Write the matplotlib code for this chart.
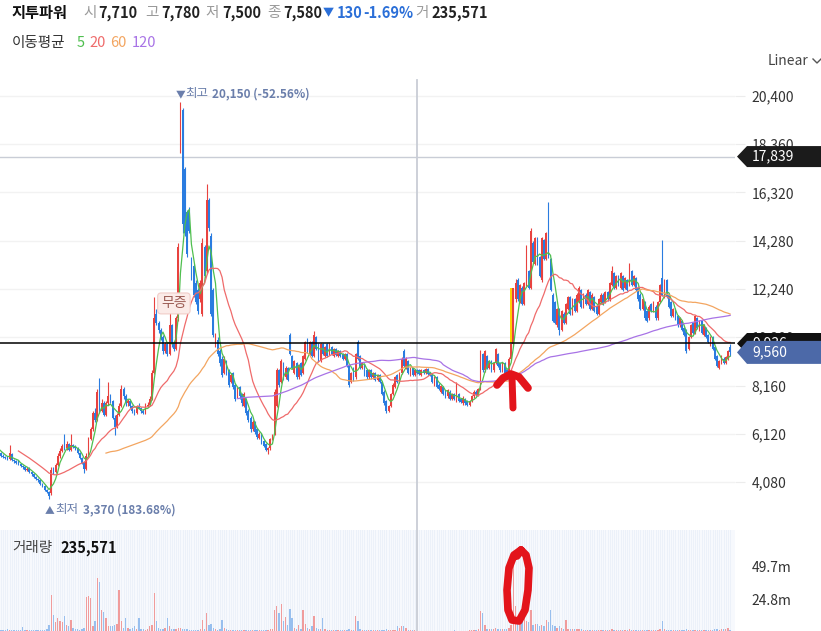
import numpy as np
import pandas as pd
import matplotlib
matplotlib.use("Agg")
import matplotlib.pyplot as plt
import matplotlib.transforms as mtransforms
from matplotlib.lines import Line2D
from matplotlib.patches import Polygon, Rectangle

plt.rcParams['font.family'] = ['Noto Sans CJK KR', 'DejaVu Sans']

W, H = 821, 631

# daily candles (first 11 are before the visible window, used for the moving averages)
opens = [6000, 5950, 5900, 5850, 5800, 5750, 5700, 5650, 5550, 5500, 5400,
         5300, 5200, 5150, 5100, 5050, 5250, 5000, 4950, 4950, 4850,
         4750, 4700, 4600, 4650, 4500, 4400, 4300, 4200, 4150, 4000,
         3900, 3750, 3650, 3600, 4600, 4500, 4800, 5200, 5400, 5600,
         5500, 5700, 5450, 5650, 5600, 5500, 5300, 5100, 4900, 4650,
         5200, 5900, 6300, 7000, 6700, 8400, 7100, 7400, 6900, 7400,
         7700, 7500, 6800, 6400, 6900, 7300, 8000, 7700, 7400, 7500,
         7300, 7100, 7000, 7300, 7200, 7100, 7000, 7300, 7350, 7600,
         8700, 11200, 10800, 10500, 10200, 9600, 9900, 9500, 10700, 9900,
         9700, 11000, 18500, 19800, 17300, 15500, 15600, 13500, 13200, 12500,
         12200, 11800, 11200, 14000, 13000, 16000, 14500, 12200, 9900, 10100,
         9600, 9300, 8700, 9200, 8800, 8300, 8700, 8200, 7700, 8100,
         7800, 7300, 7600, 7100, 6800, 6300, 6600, 6300, 5950, 6100,
         5800, 5700, 5450, 5500, 5900, 6100, 7300, 8800, 8300, 9100,
         8500, 8900, 10300, 9400, 8700, 9100, 8500, 9100, 8700, 9300,
         10100, 9500, 10000, 9400, 10200, 9900, 9200, 9900, 9400, 9900,
         9500, 9800, 9400, 9700, 9400, 9600, 9500, 9300, 9500, 9000,
         8300, 8900, 8500, 10000, 9400, 8900, 9000, 8800, 8500, 8800,
         8500, 8700, 8400, 8600, 8300, 7900, 7500, 7100, 7300, 7800,
         8100, 8600, 8300, 8700, 9600, 8900, 9200, 8600, 8900, 8600,
         8800, 8800, 8600, 8800, 8700, 8850, 8700, 8600, 8200, 8500,
         8200, 7900, 8100, 7900, 7700, 7900, 7600, 7800, 7500, 7800,
         7600, 7400, 7600, 7500, 7350, 7500, 7700, 7900, 7750, 8000,
         9500, 8800, 9400, 8900, 9200, 8800, 9100, 9500, 9100, 8800,
         9100, 8800, 8600, 9300, 9900, 11800, 12600, 11700, 12300, 11600,
         12400, 13000, 12300, 14200, 13300, 14400, 13600, 12600, 14300, 13500,
         14600, 13500, 12000, 11700, 10700, 11400, 10500, 11200, 10800, 11400,
         11900, 11200, 11800, 11300, 11700, 12200, 11500, 12000, 11600, 12100,
         11400, 11900, 11500, 11200, 11700, 12000, 11700, 12100, 11800, 12400,
         12900, 12300, 12800, 12300, 12800, 12300, 12600, 12400, 13000, 12400,
         12700, 12300, 12000, 11400, 11700, 11300, 11000, 11600, 11300, 11500,
         11000, 11700, 12700, 11900, 12600, 12000, 11700, 11100, 11400, 11100,
         10700, 10900, 10600, 10500, 9700, 10200, 10800, 10400, 11000, 10500,
         10900, 10300, 10600, 10300, 9900, 10200, 9800, 9400, 8900, 9100,
         9300, 9100, 9300, 9800]
highs = [6100, 6050, 6000, 5950, 5900, 5850, 5800, 5750, 5650, 5600, 5500,
         5350, 5250, 5200, 5200, 5650, 5300, 5050, 5000, 5000, 4900,
         4800, 4750, 4700, 4700, 4550, 4450, 4350, 4250, 4200, 4050,
         3950, 3800, 3700, 4700, 4700, 4900, 5300, 5500, 5700, 6100,
         5800, 5750, 6100, 5700, 5650, 5550, 5350, 5150, 4950, 5300,
         6000, 6400, 7100, 7200, 8000, 8470, 7600, 7500, 7500, 8300,
         7800, 7550, 6900, 7000, 7400, 8200, 8100, 7800, 7600, 7550,
         7350, 7150, 7350, 7400, 7250, 7150, 7400, 7450, 7700, 8800,
         11900, 11400, 10900, 10600, 10300, 10000, 9950, 11400, 10750, 10000,
         11100, 14200, 20150, 19900, 17400, 15600, 15700, 13600, 13300, 12600,
         12300, 12600, 14400, 14100, 16700, 16100, 14600, 12300, 10400, 10200,
         9700, 9400, 9400, 9250, 8850, 8700, 8750, 8250, 8100, 8150,
         7850, 7900, 7650, 7150, 6850, 6700, 6650, 6350, 6200, 6150,
         5850, 5750, 5550, 5950, 6100, 8000, 8900, 8850, 9300, 9150,
         9000, 8950, 10400, 9450, 9250, 9150, 9050, 9150, 9450, 10050,
         10150, 10050, 10050, 10450, 10250, 9950, 9950, 9950, 9850, 9950,
         9950, 9850, 9750, 9750, 9650, 9650, 9550, 9550, 9550, 9050,
         8750, 8950, 9550, 10100, 9450, 9150, 9050, 8850, 8850, 8850,
         8750, 8750, 8650, 8650, 8350, 7950, 7550, 7350, 7850, 8250,
         8550, 8650, 8750, 9350, 9700, 9350, 9250, 8950, 8950, 8850,
         8850, 8850, 8850, 8850, 8900, 8900, 8750, 8650, 8550, 8550,
         8250, 8200, 8150, 7950, 8000, 7950, 7850, 7850, 8300, 7850,
         7650, 7700, 7650, 7550, 7550, 7750, 7950, 7950, 8050, 9650,
         9550, 9650, 9450, 9250, 9250, 9150, 9750, 9550, 9150, 9150,
         9150, 8850, 9350, 9950, 12300, 12650, 12700, 12450, 12350, 12550,
         14100, 13050, 14800, 14250, 14450, 14450, 13650, 14450, 14350, 14650,
         15900, 13550, 12050, 11750, 11450, 11450, 11350, 11250, 11650, 11950,
         11950, 11850, 11850, 12050, 12350, 12250, 12050, 12050, 12250, 12150,
         12050, 11950, 11550, 11850, 12050, 12050, 12150, 12150, 12550, 13200,
         12950, 12850, 12850, 12950, 12850, 12750, 12650, 13330, 13050, 12850,
         12750, 12350, 12050, 11850, 11750, 11350, 11550, 11650, 11750, 11550,
         11750, 12450, 14300, 12650, 12650, 12050, 11750, 11450, 11450, 11150,
         11050, 10950, 10650, 10550, 10250, 10750, 10850, 11150, 11050, 10950,
         10950, 10750, 10650, 10350, 10250, 10250, 9850, 9450, 9250, 9450,
         9350, 9400, 9650, 9900]
lows = [5900, 5850, 5800, 5750, 5700, 5650, 5600, 5500, 5450, 5350, 5250,
        5150, 5100, 5050, 5000, 5000, 4950, 4900, 4850, 4800, 4700,
        4650, 4550, 4550, 4450, 4350, 4250, 4150, 4100, 3950, 3850,
        3700, 3600, 3370, 3550, 4400, 4450, 4750, 5100, 5350, 5450,
        5450, 5400, 5400, 5500, 5450, 5250, 5050, 4850, 4460, 4600,
        5150, 5850, 6250, 6600, 6650, 7000, 7050, 6850, 6850, 7350,
        7400, 6750, 6070, 6350, 6850, 7250, 7600, 7300, 7300, 7200,
        7000, 6900, 6950, 7150, 7000, 6950, 6950, 7250, 7300, 7550,
        8650, 10700, 10400, 10100, 9500, 9550, 9400, 9450, 9800, 9600,
        9650, 10900, 18000, 14600, 14500, 13600, 14600, 12600, 11900, 11600,
        11200, 11700, 11100, 12700, 12900, 14700, 11100, 10200, 9800, 9400,
        9000, 8500, 8650, 8600, 8100, 8250, 8000, 7500, 7650, 7600,
        7300, 7250, 6900, 6600, 6200, 6250, 6100, 5900, 5900, 5700,
        5550, 5400, 5250, 5450, 5850, 6050, 7250, 8100, 8250, 8400,
        8450, 8350, 9450, 8850, 8650, 8450, 8450, 8550, 8650, 9250,
        9550, 9450, 9350, 9350, 9650, 9150, 9150, 9450, 9350, 9350,
        9450, 9450, 9350, 9400, 9350, 9350, 9250, 9250, 8950, 8100,
        8250, 8350, 8450, 9250, 8850, 8850, 8550, 8450, 8450, 8450,
        8450, 8350, 8350, 8250, 7750, 7350, 7000, 7050, 7250, 7750,
        8050, 8250, 8250, 8650, 8950, 8850, 8650, 8550, 8550, 8550,
        8650, 8600, 8550, 8650, 8650, 8600, 8550, 8250, 8150, 8050,
        7950, 7850, 7750, 7650, 7650, 7550, 7550, 7550, 7450, 7450,
        7400, 7350, 7350, 7300, 7300, 7450, 7650, 7700, 7700, 7950,
        8750, 8750, 8850, 8850, 8750, 8750, 9050, 8950, 8750, 8750,
        8650, 8550, 8550, 9250, 9850, 11700, 11750, 11650, 11550, 11550,
        12350, 12250, 12250, 13350, 13250, 13250, 12750, 12550, 13450, 13450,
        13550, 12150, 10850, 10750, 10650, 10300, 10450, 10750, 10750, 11350,
        11150, 11150, 11250, 11250, 11650, 11450, 11450, 11550, 11550, 11350,
        11350, 11250, 11150, 11150, 11650, 11550, 11650, 11750, 11750, 12350,
        12250, 12250, 12350, 12250, 12150, 12250, 12150, 12350, 12350, 12350,
        12150, 11750, 11350, 11350, 10950, 10850, 10950, 11250, 11250, 10950,
        10950, 11650, 11950, 11850, 11850, 11450, 11050, 11050, 10950, 10650,
        10650, 10450, 10250, 9550, 9650, 10150, 10350, 10350, 10550, 10450,
        10350, 10250, 10150, 9950, 9850, 9650, 9250, 8950, 8850, 9050,
        9050, 9050, 9250, 9400]
closes = [5950, 5900, 5850, 5800, 5750, 5700, 5650, 5550, 5500, 5400, 5300,
          5200, 5150, 5100, 5050, 5300, 5000, 4950, 4900, 4850, 4750,
          4700, 4600, 4650, 4500, 4400, 4300, 4200, 4150, 4000, 3900,
          3750, 3650, 3500, 4600, 4500, 4800, 5200, 5400, 5600, 5500,
          5700, 5450, 5650, 5600, 5500, 5300, 5100, 4900, 4650, 5200,
          5900, 6300, 7000, 6700, 7900, 7100, 7400, 6900, 7400, 7700,
          7500, 6800, 6400, 6900, 7300, 8000, 7700, 7400, 7500, 7300,
          7100, 7000, 7300, 7200, 7100, 7000, 7300, 7350, 7600, 8700,
          11000, 10800, 10500, 10200, 9600, 9900, 9500, 10700, 9900, 9700,
          11000, 14000, 20000, 15000, 14600, 13700, 14700, 12700, 12000, 11700,
          11300, 12500, 14200, 12800, 16000, 14800, 11200, 10300, 10100, 9500,
          9100, 8600, 9300, 8700, 8200, 8600, 8100, 7600, 8000, 7700,
          7400, 7800, 7000, 6700, 6300, 6600, 6200, 6000, 6100, 5750,
          5600, 5450, 5500, 5900, 6000, 7900, 8800, 8200, 9200, 8500,
          8900, 8400, 9500, 8900, 9200, 8500, 9000, 8600, 9400, 10000,
          9600, 10000, 9400, 10300, 9700, 9200, 9900, 9500, 9800, 9400,
          9900, 9500, 9700, 9450, 9600, 9400, 9300, 9500, 9000, 8200,
          8700, 8400, 9500, 9300, 8900, 9100, 8600, 8500, 8800, 8500,
          8700, 8400, 8600, 8300, 7800, 7400, 7100, 7300, 7800, 8200,
          8500, 8300, 8700, 9300, 9000, 9300, 8700, 8900, 8600, 8800,
          8700, 8650, 8800, 8700, 8850, 8650, 8600, 8300, 8500, 8100,
          8000, 8150, 7800, 7700, 7950, 7600, 7800, 7600, 7750, 7500,
          7450, 7650, 7400, 7350, 7500, 7700, 7900, 7750, 8000, 9500,
          8800, 9600, 8900, 9200, 8800, 9100, 9700, 9000, 8800, 9100,
          8700, 8600, 9300, 9900, 12300, 12500, 11800, 12400, 11600, 12500,
          13300, 12300, 14700, 13400, 14400, 13300, 12800, 14400, 13500, 14600,
          13600, 12200, 10900, 10800, 11400, 10500, 11300, 10800, 11600, 11900,
          11200, 11800, 11300, 12000, 12300, 11500, 12000, 11600, 12200, 11400,
          12000, 11300, 11200, 11800, 12000, 11600, 12100, 11800, 12500, 13000,
          12300, 12800, 12400, 12900, 12200, 12700, 12200, 13200, 12400, 12800,
          12200, 11800, 11400, 11800, 11000, 10900, 11500, 11300, 11700, 11000,
          11700, 12400, 12000, 12600, 11900, 11500, 11100, 11400, 11000, 10700,
          11000, 10500, 10300, 9600, 10200, 10700, 10400, 11100, 10600, 10900,
          10400, 10700, 10200, 10000, 10200, 9700, 9300, 9000, 9200, 9400,
          9100, 9350, 9600, 9560]
# volume in millions of shares
volumes = [3, 3, 3, 3, 3, 3, 3, 3, 3, 3, 3,
           2, 2, 2, 3, 2, 2, 2, 2, 2, 2,
           4.5, 2, 2, 2, 2, 2, 2, 2, 2, 2,
           2, 3, 6, 28.5, 13.5, 8, 11, 9, 8, 13,
           6, 5, 10, 4, 3, 3, 2, 3, 4, 27,
           28, 26, 5, 9, 41, 38, 17, 16, 11, 5,
           5, 5, 6, 7, 32, 9, 4, 11, 4, 3,
           4, 5, 3, 11, 3, 3, 2, 3, 5, 6,
           30, 9, 4, 3, 3, 4, 11, 5, 3, 3,
           3, 4, 4, 3, 3, 3, 2, 2, 2, 2,
           2, 3, 10, 3, 15, 6, 7, 4, 3, 2,
           3, 10, 4, 3, 2, 2, 2, 2, 2, 2,
           2, 2, 2, 2, 2, 2, 2, 2, 2, 2,
           2, 2, 2, 3, 3, 17, 20, 15, 22, 9,
           12, 6, 18, 11, 4, 3, 6, 3, 17, 7,
           4, 3, 5, 13, 4, 3, 3, 11, 3, 2,
           2, 2, 2, 2, 2, 2, 2, 2, 2, 3,
           2, 2, 13, 9, 3, 2, 2, 2, 2, 2,
           2, 2, 2, 2, 2, 2, 3, 2, 2, 2,
           2, 5, 4, 5, 5, 4, 2, 2, 2, 2,
           1.5, 1.5, 1.5, 1.5, 1.5, 1.5, 1.5, 1.5, 1.5, 1.5,
           1.5, 1.5, 1.5, 1.5, 1.5, 1.5, 1.5, 2, 1.5, 1.5,
           1.5, 1.5, 1.5, 1.5, 2, 2, 2, 2, 3, 16.5,
           15, 6, 3, 3, 3, 3, 4, 3, 3, 3,
           3, 3, 4, 6, 52, 20, 9, 10, 8, 11,
           9, 8, 17, 6, 7, 7, 5, 6, 5, 10,
           8, 17, 6, 5, 4, 5, 4, 3, 10, 3,
           3, 3, 3, 3, 3, 3, 2, 2, 2, 2,
           2, 2, 2, 2, 2, 2, 2, 2, 2, 3,
           2, 2, 2, 2, 2, 2, 2, 3, 2, 2,
           2, 2, 2, 2, 2, 2, 2, 2, 2, 2,
           2, 3, 9, 3, 2, 2, 2, 2, 2, 2,
           2, 2, 2, 3, 2, 2, 2, 2, 2, 2,
           2, 2, 2, 2, 2, 2, 3, 3, 2, 3,
           3, 3, 4, 2]

ma_periods = [5, 20, 60, 120]
ma_colors = ['#4fbf4f', '#ef6b6b', '#f3a560', '#a873e6']
price_ticks = [4080, 6120, 8160, 10200, 12240, 14280, 16320, 18360, 20400]
vol_ticks = [24.8, 49.7]

stock_name = '지투파워'
header_labels = ['시', '고', '저', '종']
header_values = ['7,710', '7,780', '7,500', '7,580']
change_abs = '130'
change_pct = '-1.69%'
day_volume = '235,571'
high_text = '20,150 (-52.56%)'
low_text = '3,370 (183.68%)'

cross_idx = 201
cross_price = 17839
line_price = 9936
last_price = 9560
event_idx, event_price = 90, 11630
marker_idx = (243.5, 244.95)
marker_range = (9936, 12280)

RED = '#e8423f'
BLUE = '#2a7ce0'

o = np.array(opens, float)
h = np.array(highs, float)
l = np.array(lows, float)
c = np.array(closes, float)
v = np.array(volumes, float) * 1e6
idx = np.arange(len(c))
up = c >= o
colors = np.where(up, RED, BLUE)

fig = plt.figure(figsize=(W / 100, H / 100), dpi=100)

def fx(px):
    return px / W

def fy(py):
    return 1 - py / H

ax = fig.add_axes([0, fy(530), fx(735), (530 - 70) / H])
axv = fig.add_axes([0, 0, fx(735), 101 / H])

xl = (10.6, 10.6 + 735 / 2.19)
ax.set_xlim(*xl)
axv.set_xlim(*xl)
ax.set_ylim(2051, 21499)
axv.set_ylim(1.5e6, 77.4e6)

# candles
ax.vlines(idx, l, h, colors=colors, lw=0.8, zorder=3)
body = np.maximum(np.abs(c - o), 40)
ax.bar(idx, body, bottom=np.minimum(o, c), width=0.8, color=colors,
       linewidth=0, zorder=3)

s = pd.Series(c)
for p, col in zip(ma_periods, ma_colors):
    ax.plot(idx, s.rolling(p).mean(), color=col, lw=0.9, zorder=4)

# yellow highlight next to the breakout candle
ax.add_patch(Rectangle((marker_idx[0], marker_range[0]), marker_idx[1] - marker_idx[0],
                       marker_range[1] - marker_range[0], color='#ffd400', lw=0, zorder=2.9))

for sp in ax.spines.values():
    sp.set_visible(False)
for sp in axv.spines.values():
    sp.set_visible(False)

ax.set_xticks([])
ax.yaxis.tick_right()
ax.set_yticks(price_ticks)
ax.set_yticklabels([f'{t:,}' for t in price_ticks])
ax.tick_params(axis='y', length=7, color='#ececec', pad=5, labelsize=10, labelcolor='#333333')
ax.grid(axis='y', color='#f2f2f2', lw=1)
ax.set_axisbelow(True)

ax.axhline(cross_price, color='#c9cdd6', lw=1, zorder=2)
ax.axvline(cross_idx, ymax=(530 - 80) / 460, color='#c9cdd6', lw=1.3, zorder=2)
ax.axhline(line_price, color='black', lw=1.1, zorder=5)

# volume pane
axv.set_facecolor('#f7f9fd')
axv.vlines(idx, 0, 80e6, color='#e8eef8', lw=0.5, zorder=0)
axv.bar(idx, v, width=0.6, color=np.where(up, '#f09c9c', '#98bfee'), linewidth=0, zorder=2)
axv.axvline(cross_idx, color='#c9cdd6', lw=1.3, zorder=3)
axv.set_xticks([])
axv.yaxis.tick_right()
axv.set_yticks([t * 1e6 for t in vol_ticks])
axv.set_yticklabels([f'{t}m' for t in vol_ticks])
axv.tick_params(axis='y', length=0, pad=12, labelsize=10, labelcolor='#333333')

# price tags on the right
blend = mtransforms.blended_transform_factory(ax.transAxes, ax.transData)
ppx = (21499 - 2051) / 460

def tag(price, fc, text, half, z):
    hh = half * ppx
    pts = [(737 / 735, price), (747 / 735, price + hh), (1.13, price + hh),
           (1.13, price - hh), (747 / 735, price - hh)]
    ax.add_patch(Polygon(pts, closed=True, fc=fc, ec='none', transform=blend,
                         clip_on=False, zorder=z))
    ax.text(752 / 735, price, text, transform=blend, color='white', fontsize=10,
            ha='left', va='center', clip_on=False, zorder=z + 0.1)

tag(cross_price, '#1b1b1b', f'{cross_price:,}', 10.5, 10)
tag(line_price, '#111111', f'{line_price:,}', 10.5, 10)
tag(last_price, '#4c69a8', f'{last_price:,}', 11.5, 11)

# high / low labels
ann_col = '#6a7eab'
hi = int(np.argmax(h))
lo = int(np.argmin(l[11:])) + 11
ax.annotate('▼', (hi, h[hi]), xytext=(-5, 8), textcoords='offset pixels',
            fontsize=7, color=ann_col, va='center', ha='left')
ax.annotate('최고', (hi, h[hi]), xytext=(5, 8), textcoords='offset pixels',
            fontsize=9, color=ann_col, va='center', ha='left')
ax.annotate(high_text, (hi, h[hi]), xytext=(32, 8), textcoords='offset pixels',
            fontsize=8.5, color=ann_col, fontweight='bold', va='center', ha='left')
ax.annotate('▲', (lo, l[lo]), xytext=(-4, -11), textcoords='offset pixels',
            fontsize=7, color=ann_col, va='center', ha='left')
ax.annotate('최저', (lo, l[lo]), xytext=(6, -11), textcoords='offset pixels',
            fontsize=9, color=ann_col, va='center', ha='left')
ax.annotate(low_text, (lo, l[lo]), xytext=(34, -11), textcoords='offset pixels',
            fontsize=8.5, color=ann_col, fontweight='bold', va='center', ha='left')

ax.text(event_idx, event_price, '무증', ha='center', va='center', fontsize=10,
        color='#9b5a52', zorder=6,
        bbox=dict(boxstyle='round,pad=0.25', fc='#fbebe8', ec='#f1cdc8', lw=0.8))

# header
def ftext(x, y, txt, **kw):
    fig.text(fx(x), fy(y), txt, ha='left', va='center', **kw)

ftext(12, 13, stock_name, fontsize=11, fontweight='bold', color='#111111')
lab_x = [83, 145, 205, 267]
val_x = [98, 161, 222, 283]
for lx, vx, lb, vl in zip(lab_x, val_x, header_labels, header_values):
    ftext(lx, 13, lb, fontsize=10.5, color='#9a9a9a')
    ftext(vx, 13, vl, fontsize=10.5, fontweight='bold', color='#222222')
ftext(323, 13, '▼', fontsize=8, color='#2b6fd8')
ftext(337, 13, change_abs, fontsize=10.5, fontweight='bold', color='#2b6fd8')
ftext(363, 13, change_pct, fontsize=10.5, fontweight='bold', color='#2b6fd8')
ftext(415, 13, '거', fontsize=10.5, color='#9a9a9a')
ftext(431, 13, day_volume, fontsize=10.5, fontweight='bold', color='#222222')

ftext(12, 43, '이동평균', fontsize=10.5, color='#333333')
for px_, per, col in zip([77, 89, 110, 132], ma_periods, ma_colors):
    ftext(px_, 43, str(per), fontsize=10.5, color=col)

ftext(768, 61, 'Linear', fontsize=10, color='#444444')
fig.add_artist(Line2D([fx(813), fx(817), fx(821)], [fy(59), fy(63), fy(59)],
                      color='#555555', lw=1))

ftext(12, 548, '거래량', fontsize=10.5, color='#444444')
ftext(60, 548, day_volume, fontsize=10.5, fontweight='bold', color='#111111')

# hand-drawn red marks
arrow_head = [(497, 385), (503, 378), (511, 374), (519, 377), (528, 388)]
arrow_shaft = [(512, 377), (513, 408)]
zero_mark = [(521, 550), (514, 555), (509, 568), (507, 590), (508, 610), (512, 620),
             (519, 621), (525, 610), (528, 590), (529, 568), (526, 555), (521, 550), (517, 556)]
for pts, lw in ((arrow_head, 5.5), (arrow_shaft, 5), (zero_mark, 5.5)):
    xs = [fx(p[0]) for p in pts]
    ys = [fy(p[1]) for p in pts]
    fig.add_artist(Line2D(xs, ys, color='#e3141b', lw=lw, solid_capstyle='round',
                          solid_joinstyle='round', zorder=20))

fig.savefig('out.png', dpi=100, facecolor='white')
